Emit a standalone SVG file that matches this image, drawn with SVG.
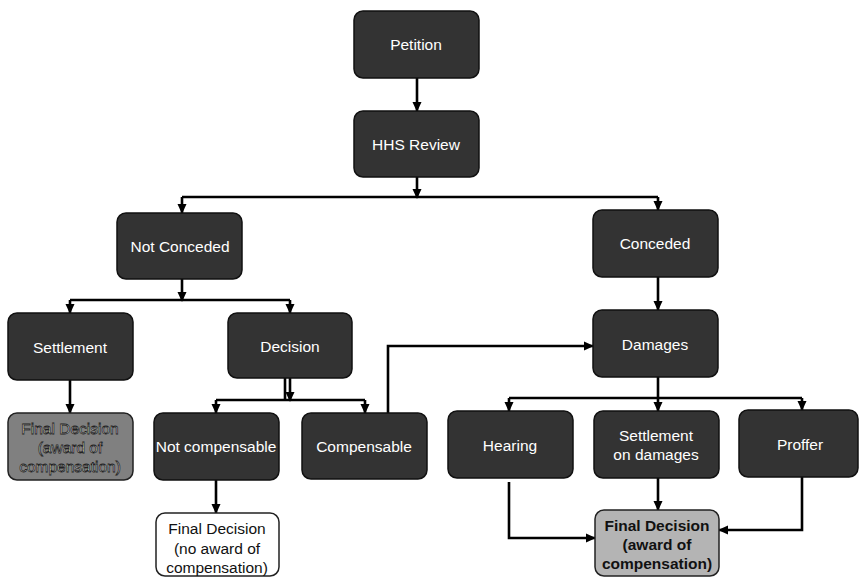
<svg xmlns="http://www.w3.org/2000/svg" width="860" height="578" viewBox="0 0 860 578">
<style>
.box{fill:#333333;stroke:#111111;stroke-width:1.5}
.grayL{fill:#808080;stroke:#222222;stroke-width:1.5}
.grayR{fill:#b4b4b4;stroke:#222222;stroke-width:1.5}
.white{fill:#ffffff;stroke:#222222;stroke-width:1.5}
.t{font-family:"Liberation Sans",Arial,sans-serif;font-size:15.5px;fill:#ffffff;text-anchor:middle;dominant-baseline:central}
.td{font-family:"Liberation Sans",Arial,sans-serif;font-size:15.5px;fill:#111111;text-anchor:middle;dominant-baseline:central}
.to{font-family:"Liberation Sans",Arial,sans-serif;font-size:15.5px;fill:#ffffff;stroke:#222222;stroke-width:0.8;text-anchor:middle;dominant-baseline:central}
.c{fill:none;stroke:#000000;stroke-width:2.6}
.ca{fill:none;stroke:#000000;stroke-width:2.6;marker-end:url(#ah)}
</style>
<defs>
<marker id="ah" markerUnits="userSpaceOnUse" markerWidth="10" markerHeight="10" refX="9" refY="5" orient="auto">
<path d="M0,0.5 L10,5 L0,9.5 Z" fill="#000000"/>
</marker>
</defs>
<rect width="860" height="578" fill="#ffffff"/>
<g id="connectors">
<line class="ca" x1="417" y1="78" x2="417" y2="111"/>
<line class="ca" x1="417" y1="177" x2="417" y2="198"/>
<line class="c" x1="182" y1="197" x2="658" y2="197"/>
<line class="ca" x1="182" y1="197" x2="182" y2="213"/>
<line class="ca" x1="658" y1="197" x2="658" y2="210"/>
<line class="ca" x1="182" y1="279" x2="182" y2="301"/>
<line class="c" x1="70" y1="300" x2="290" y2="300"/>
<line class="ca" x1="70" y1="300" x2="70" y2="313"/>
<line class="ca" x1="290" y1="300" x2="290" y2="313"/>
<line class="ca" x1="70" y1="380" x2="70" y2="413"/>
<line class="c" x1="285" y1="378" x2="285" y2="400" stroke-width="2"/>
<line class="ca" x1="290" y1="378" x2="290" y2="401" stroke-width="2"/>
<line class="c" x1="216" y1="400" x2="365" y2="400"/>
<line class="ca" x1="216" y1="400" x2="216" y2="413"/>
<line class="ca" x1="365" y1="400" x2="365" y2="413"/>
<line class="ca" x1="216" y1="480" x2="216" y2="513"/>
<polyline class="ca" points="388,413 388,346 593,346"/>
<line class="ca" x1="658" y1="277" x2="658" y2="310"/>
<line class="c" x1="658" y1="377" x2="658" y2="398"/>
<line class="c" x1="509" y1="398" x2="802" y2="398"/>
<line class="ca" x1="509" y1="398" x2="509" y2="411"/>
<line class="ca" x1="658" y1="398" x2="658" y2="411"/>
<line class="ca" x1="802" y1="398" x2="802" y2="410"/>
<line class="ca" x1="658" y1="478" x2="658" y2="510"/>
<polyline class="ca" points="509,482 509,538 595,538"/>
<polyline class="ca" points="802,477 802,530 719,530"/>
</g>
<g id="petition"><rect class="box" x="354" y="11" width="125" height="67" rx="9"/><text class="t" x="416" y="44">Petition</text></g>
<g id="hhs-review"><rect class="box" x="354" y="111" width="125" height="66" rx="9"/><text class="t" x="416" y="144">HHS Review</text></g>
<g id="not-conceded"><rect class="box" x="117" y="213" width="125" height="66" rx="9"/><text class="t" x="180" y="246">Not Conceded</text></g>
<g id="conceded"><rect class="box" x="593" y="210" width="125" height="67" rx="9"/><text class="t" x="655" y="243">Conceded</text></g>
<g id="settlement"><rect class="box" x="8" y="313" width="125" height="67" rx="9"/><text class="t" x="70" y="347">Settlement</text></g>
<g id="decision"><rect class="box" x="228" y="313" width="124" height="65" rx="9"/><text class="t" x="290" y="346">Decision</text></g>
<g id="damages"><rect class="box" x="593" y="310" width="125" height="67" rx="9"/><text class="t" x="655" y="344">Damages</text></g>
<g id="final-decision-settlement"><rect class="grayL" x="8" y="413" width="125" height="67" rx="9"/><text class="to" x="70" y="428">Final Decision</text><text class="to" x="70" y="447">(award of</text><text class="to" x="70" y="466">compensation)</text></g>
<g id="not-compensable"><rect class="box" x="154" y="413" width="125" height="67" rx="9"/><text class="t" x="216" y="446">Not compensable</text></g>
<g id="compensable"><rect class="box" x="302" y="413" width="125" height="66" rx="9"/><text class="t" x="364" y="446">Compensable</text></g>
<g id="hearing"><rect class="box" x="448" y="411" width="125" height="67" rx="9"/><text class="t" x="510" y="445">Hearing</text></g>
<g id="settlement-on-damages"><rect class="box" x="594" y="411" width="125" height="67" rx="9"/><text class="t" x="656" y="435">Settlement</text><text class="t" x="656" y="454">on damages</text></g>
<g id="proffer"><rect class="box" x="739" y="410" width="119" height="67" rx="9"/><text class="t" x="800" y="444">Proffer</text></g>
<g id="final-decision-no-award"><rect class="white" x="156" y="513" width="123" height="63" rx="9"/><text class="td" x="217" y="528">Final Decision</text><text class="td" x="217" y="548">(no award of</text><text class="td" x="217" y="567">compensation)</text></g>
<g id="final-decision-award"><rect class="grayR" x="595" y="510" width="124" height="66" rx="9"/><text class="td" x="657" y="525" font-weight="bold">Final Decision</text><text class="td" x="657" y="544" font-weight="bold">(award of</text><text class="td" x="657" y="563" font-weight="bold">compensation)</text></g>
</svg>
